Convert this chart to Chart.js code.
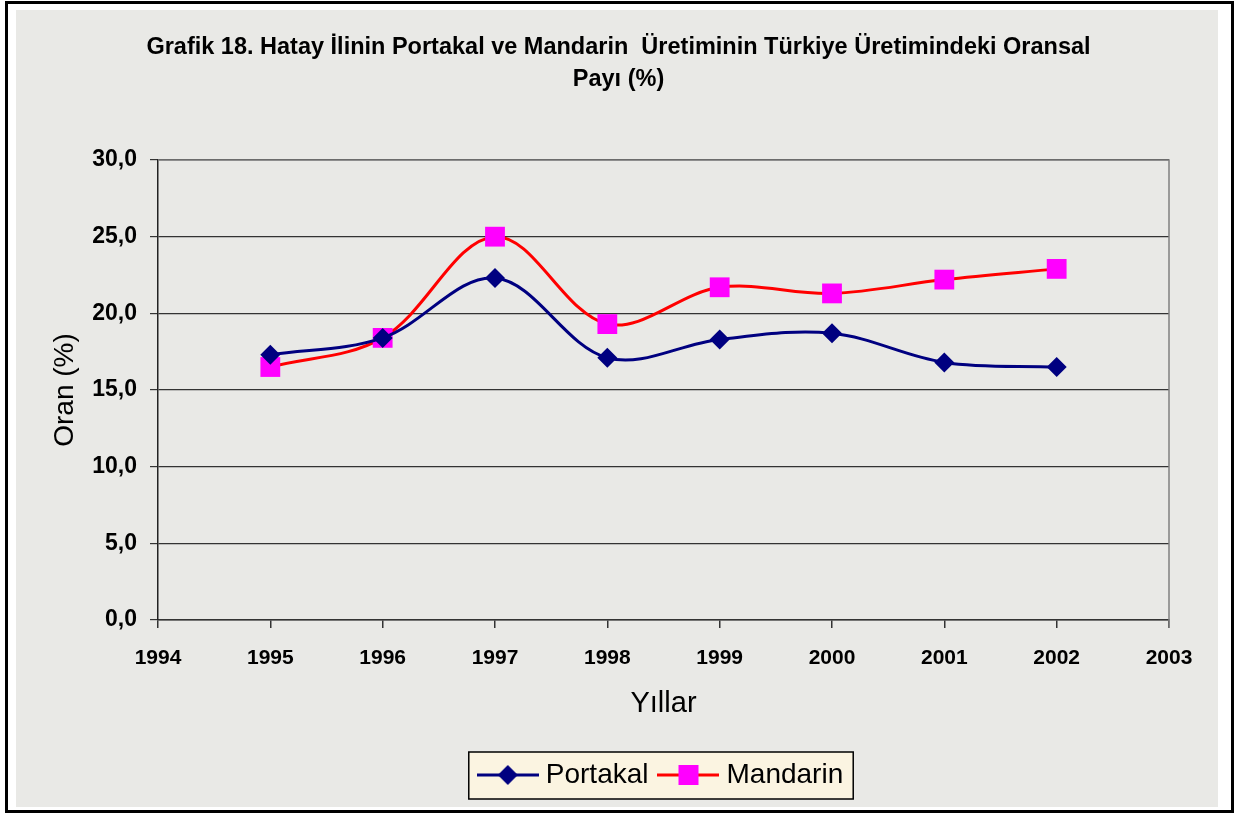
<!DOCTYPE html>
<html>
<head>
<meta charset="utf-8">
<script src="https://cdn.jsdelivr.net/npm/chart.js@4"></script>
<style>
  html, body { margin: 0; padding: 0; background: #fff; }
  canvas { display: block; }
</style>
</head>
<body>
<canvas id="oranChart" width="1237" height="821"></canvas>
<script>
const years = [1995, 1996, 1997, 1998, 1999, 2000, 2001, 2002];
const portakal = [17.3, 18.4, 22.3, 17.1, 18.3, 18.7, 16.8, 16.5];
const mandarin = [16.5, 18.4, 25.0, 19.3, 21.7, 21.3, 22.2, 22.9];
const titleLines = [
  'Grafik 18. Hatay İlinin Portakal ve Mandarin  Üretiminin Türkiye Üretimindeki Oransal',
  'Payı (%)',
];

const FONT = "'Liberation Sans', Arial, sans-serif";

// legend symbol: short line with the marker in the middle
const legendSymbol = (color, markerColor, shape) => {
  const c = document.createElement('canvas');
  c.width = 62;
  c.height = 22;
  const g = c.getContext('2d');
  g.strokeStyle = color;
  g.lineWidth = 3;
  g.beginPath();
  g.moveTo(0, 11);
  g.lineTo(62, 11);
  g.stroke();
  g.fillStyle = markerColor;
  g.beginPath();
  if (shape === 'diamond') {
    g.moveTo(31, 1);
    g.lineTo(41, 11);
    g.lineTo(31, 21);
    g.lineTo(21, 11);
    g.closePath();
  } else {
    g.rect(21, 1, 20, 20);
  }
  g.fill();
  return c;
};

const background = {
  id: 'background',
  beforeDraw(chart) {
    const ctx = chart.ctx;
    ctx.save();
    ctx.fillStyle = '#ffffff';
    ctx.fillRect(0, 0, chart.width, chart.height);
    ctx.fillStyle = '#e9e9e6';
    ctx.fillRect(16, 10, 1202, 797);
    ctx.strokeStyle = '#000';
    ctx.lineWidth = 3;
    ctx.strokeRect(6.5, 2.5, 1226, 809);

    const boxes = chart.legend.legendHitBoxes;
    if (boxes && boxes.length) {
      const first = boxes[0];
      const last = boxes[boxes.length - 1];
      const x0 = first.left - 15;
      const x1 = last.left + last.width + 10;
      const y0 = first.top - 9;
      const y1 = first.top + first.height + 10;
      ctx.fillStyle = '#fbf4e1';
      ctx.fillRect(x0, y0, x1 - x0, y1 - y0);
      ctx.strokeStyle = '#000';
      ctx.lineWidth = 1.5;
      ctx.strokeRect(x0, y0, x1 - x0, y1 - y0);
    }
    ctx.restore();
  },
  beforeDatasetsDraw(chart) {
    const { ctx, chartArea } = chart;
    ctx.save();
    ctx.strokeStyle = '#808080';
    ctx.lineWidth = 1.5;
    ctx.beginPath();
    ctx.moveTo(chartArea.left, chartArea.top);
    ctx.lineTo(chartArea.right, chartArea.top);
    ctx.lineTo(chartArea.right, chartArea.bottom + 8);
    ctx.stroke();
    ctx.restore();
  },
};

const ctx = document.getElementById('oranChart').getContext('2d');

new Chart(ctx, {
  type: 'line',
  data: {
    datasets: [
      {
        label: 'Portakal',
        data: years.map((y, i) => ({ x: y, y: portakal[i] })),
        borderColor: '#000080',
        backgroundColor: '#000080',
        borderWidth: 3,
        pointStyle: 'rectRot',
        pointRadius: 10,
        pointHoverRadius: 10,
        pointBorderWidth: 0,
        tension: 0.35,
        fill: false,
        legendSymbol: legendSymbol('#000080', '#000080', 'diamond'),
      },
      {
        label: 'Mandarin',
        data: years.map((y, i) => ({ x: y, y: mandarin[i] })),
        borderColor: '#ff0000',
        backgroundColor: '#ff00ff',
        borderWidth: 3,
        pointStyle: 'rect',
        pointRadius: 14,
        pointHoverRadius: 14,
        pointBorderWidth: 0,
        tension: 0.35,
        fill: false,
        legendSymbol: legendSymbol('#ff0000', '#ff00ff', 'square'),
      },
    ],
  },
  options: {
    responsive: false,
    animation: false,
    layout: {
      padding: { top: 10, left: 16, right: 16, bottom: 22 },
    },
    scales: {
      x: {
        type: 'linear',
        min: 1994,
        max: 2003,
        ticks: {
          stepSize: 1,
          padding: 18,
          color: '#000',
          font: { family: FONT, size: 21, weight: 'bold' },
          callback: (v) => String(v),
        },
        grid: {
          drawOnChartArea: false,
          drawTicks: true,
          tickLength: 8,
          color: '#333',
          lineWidth: 1.5,
        },
        border: { color: '#333', width: 1.5 },
        title: {
          display: true,
          text: 'Yıllar',
          color: '#000',
          font: { family: FONT, size: 29 },
          padding: { top: 0, bottom: 24 },
        },
        afterFit: (scale) => {
          scale.height = 125;
        },
      },
      y: {
        min: 0,
        max: 30,
        ticks: {
          stepSize: 5,
          padding: 13,
          color: '#000',
          font: { family: FONT, size: 23, weight: 'bold' },
          callback: (v) => v.toFixed(1).replace('.', ','),
        },
        grid: {
          color: '#333',
          lineWidth: 1.2,
          tickLength: 8,
        },
        border: { color: '#222', width: 1.5 },
        title: {
          display: true,
          text: 'Oran (%)',
          color: '#000',
          font: { family: FONT, size: 28 },
          padding: { top: 32, bottom: 0 },
        },
        afterFit: (scale) => {
          scale.width = 142;
        },
      },
      // empty right-hand space so the plot ends where the original does
      spacer: {
        position: 'right',
        ticks: { display: false },
        grid: { display: false },
        border: { display: false },
        afterFit: (scale) => {
          scale.width = 52;
        },
      },
    },
    plugins: {
      title: {
        display: true,
        text: titleLines,
        color: '#000',
        font: { family: "'Liberation Sans Narrow', 'Liberation Sans', Arial, sans-serif", size: 23.5, weight: 'bold', lineHeight: 1.362 },
        padding: { top: 22, bottom: 64 },
      },
      legend: {
        position: 'bottom',
        fullSize: false,
        labels: {
          usePointStyle: true,
          pointStyleWidth: 48,
          padding: 16,
          color: '#000',
          font: { family: FONT, size: 28 },
          generateLabels: (chart) =>
            chart.data.datasets.map((ds, i) => ({
              text: ds.label,
              pointStyle: ds.legendSymbol,
              fillStyle: ds.backgroundColor,
              strokeStyle: ds.borderColor,
              lineWidth: 0,
              hidden: false,
              datasetIndex: i,
            })),
        },
        onClick: null,
      },
      tooltip: { enabled: false },
    },
  },
  plugins: [background],
});
</script>
</body>
</html>
